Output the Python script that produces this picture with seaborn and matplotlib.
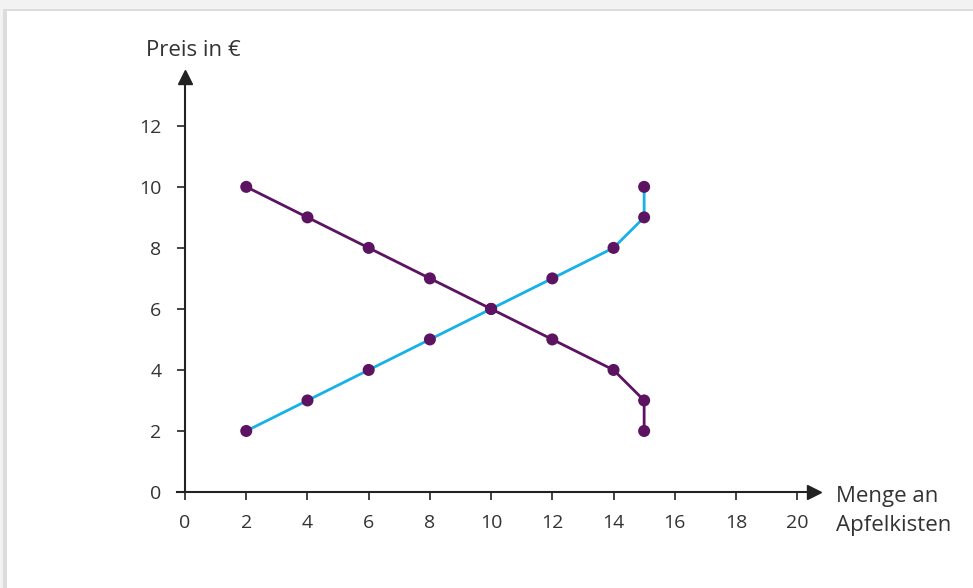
import numpy as np
import pandas as pd
import matplotlib
matplotlib.use("Agg")
import matplotlib.pyplot as plt
from matplotlib.patches import Rectangle
import seaborn as sns

# Data
menge_nachfrage = [2, 4, 6, 8, 10, 12, 14, 15, 15]
preis_nachfrage = [10, 9, 8, 7, 6, 5, 4, 3, 2]
menge_angebot = [2, 4, 6, 8, 10, 12, 14, 15, 15]
preis_angebot = [2, 3, 4, 5, 6, 7, 8, 9, 10]
x_ticks = [0, 2, 4, 6, 8, 10, 12, 14, 16, 18, 20]
y_ticks = [0, 2, 4, 6, 8, 10, 12]

purple = "#5b1362"
blue = "#15b1e8"
text_col = "#333333"

sns.set_theme(style="white")
plt.rcParams['font.family'] = ['Open Sans', 'DejaVu Sans']

df_n = pd.DataFrame({"menge": menge_nachfrage, "preis": preis_nachfrage})
df_a = pd.DataFrame({"menge": menge_angebot, "preis": preis_angebot})

fig = plt.figure(figsize=(9.73, 5.88), dpi=100, facecolor="#f2f2f2")
# card with a soft shadow
fig.patches.append(Rectangle((3 / 973, 0), 1, (588 - 9) / 588, transform=fig.transFigure,
                             facecolor="#dcdcdc", edgecolor="none", zorder=-10))
fig.patches.append(Rectangle((7 / 973, 0), 1, (588 - 11) / 588, transform=fig.transFigure,
                             facecolor="white", edgecolor="none", zorder=-9))

# 30.6 px per unit in x, 30.5 px per unit in y
ax = fig.add_axes([177.4 / 973, 96 / 588, (814 - 177.4) / 973, 415 / 588])
ax.set_facecolor("none")
ax.set_zorder(2)

sns.lineplot(data=df_a, x="menge", y="preis", sort=False, estimator=None,
             color=blue, linewidth=2.0, ax=ax, zorder=2)
sns.lineplot(data=df_n, x="menge", y="preis", sort=False, estimator=None,
             color=purple, linewidth=2.0, ax=ax, zorder=3)
sns.scatterplot(data=df_a, x="menge", y="preis", color=purple, s=75,
                edgecolor="none", ax=ax, zorder=4)
sns.scatterplot(data=df_n, x="menge", y="preis", color=purple, s=75,
                edgecolor="none", ax=ax, zorder=4)

ax.set_xlim(-0.25, 20.55)
ax.set_ylim(0, 13.6)
ax.set_xticks(x_ticks)
ax.set_yticks(y_ticks)
ax.set_xticklabels([str(t) for t in x_ticks])
ax.set_yticklabels([str(t) for t in y_ticks])

for s in ["top", "right"]:
    ax.spines[s].set_visible(False)
ax.spines["left"].set_position(("data", 0))
ax.spines["bottom"].set_position(("data", 0))
for s in ["left", "bottom"]:
    ax.spines[s].set_color("#222222")
    ax.spines[s].set_linewidth(1.5)

ax.tick_params(axis="both", direction="out", length=6, width=1.2, color="#222222",
               labelsize=14, labelcolor=text_col, bottom=True, left=True)
ax.tick_params(axis="y", pad=11)
ax.tick_params(axis="x", pad=10)

# arrow heads
ax.plot(1, 0, marker=">", color="#222222", markersize=10, clip_on=False,
        transform=ax.get_yaxis_transform(), zorder=5)
ax.plot(0, 1, marker="^", color="#222222", markersize=10, clip_on=False,
        transform=ax.get_xaxis_transform(), zorder=5)

ax.set_xlabel("")
ax.set_ylabel("")
fig.text(193 / 973, 1 - 50 / 588, "Preis in €", ha="center", va="center",
         fontsize=16, color=text_col)
fig.text(836 / 973, 1 - 511 / 588, "Menge an\nApfelkisten", ha="left", va="center",
         fontsize=16, color=text_col, linespacing=1.45)

fig.savefig("out.png", dpi=100, facecolor=fig.get_facecolor())
